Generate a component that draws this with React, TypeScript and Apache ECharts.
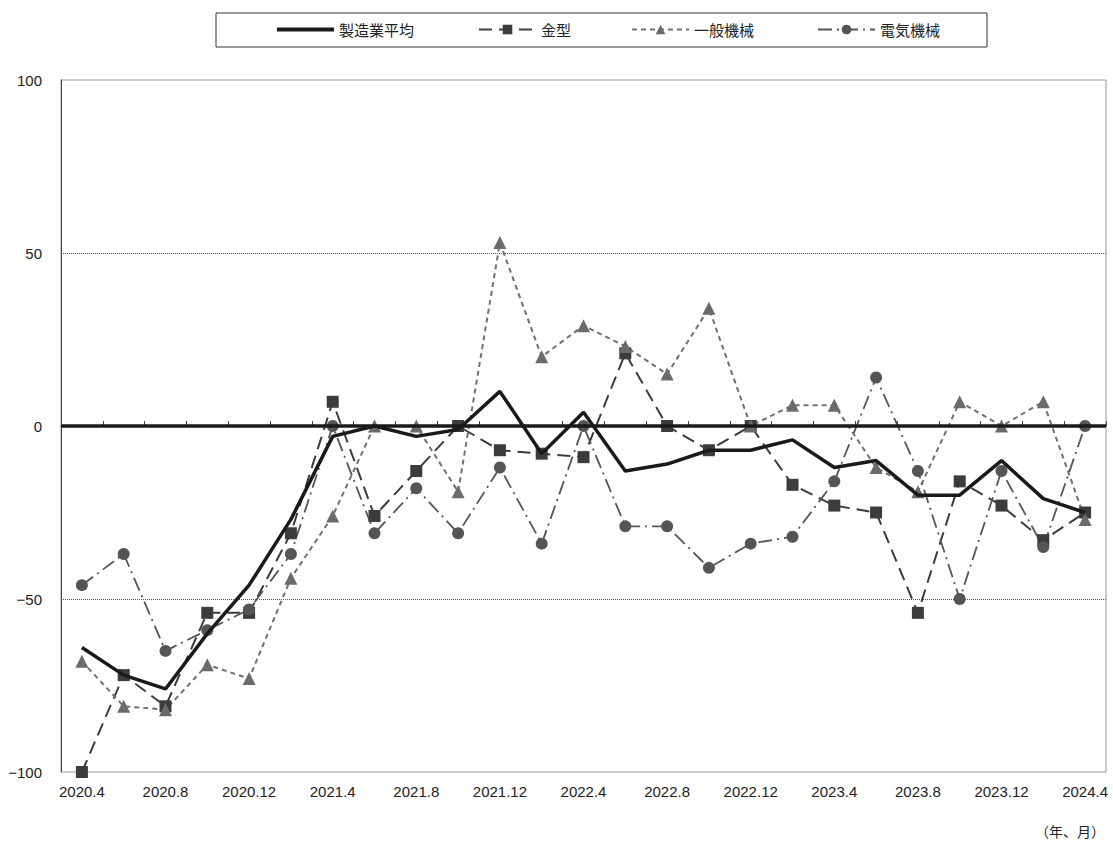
import React, { useEffect, useRef } from "react";
import * as echarts from "echarts";

const categories = [
  "2020.4", "2020.6", "2020.8", "2020.10", "2020.12",
  "2021.2", "2021.4", "2021.6", "2021.8", "2021.10", "2021.12",
  "2022.2", "2022.4", "2022.6", "2022.8", "2022.10", "2022.12",
  "2023.2", "2023.4", "2023.6", "2023.8", "2023.10", "2023.12",
  "2024.2", "2024.4",
];

const seriesNames = ["製造業平均", "金型", "一般機械", "電気機械"];

const avgValues = [-64, -72, -76, -60, -46, -27, -3, 0, -3, -1, 10, -8, 4, -13, -11, -7, -7, -4, -12, -10, -20, -20, -10, -21, -25];
const moldValues = [-100, -72, -81, -54, -54, -31, 7, -26, -13, 0, -7, -8, -9, 21, 0, -7, 0, -17, -23, -25, -54, -16, -23, -33, -25];
const machineValues = [-68, -81, -82, -69, -73, -44, -26, 0, 0, -19, 53, 20, 29, 23, 15, 34, 0, 6, 6, -12, -19, 7, 0, 7, -27];
const electricValues = [-46, -37, -65, -59, -53, -37, 0, -31, -18, -31, -12, -34, 0, -29, -29, -41, -34, -32, -16, 14, -13, -50, -13, -35, 0];

const yMin = -100;
const yMax = 100;
const yInterval = 50;
const unitLabel = "（年、月）";

const legendLefts = [277, 478, 631, 817];

export default function App() {
  const ref = useRef<HTMLDivElement>(null);

  useEffect(() => {
    document.body.style.margin = "0";
    if (!ref.current) return;
    const chart = echarts.init(ref.current, null, { renderer: "svg" });
    const textFont = "'Liberation Sans', Arial, sans-serif";
    const cjkFont = "'Noto Sans CJK JP', sans-serif";

    const legendCommon = {
      top: 22,
      orient: "horizontal",
      padding: 0,
      itemWidth: 57,
      itemHeight: 12,
      itemGap: 0,
      textStyle: { fontSize: 15, color: "#222", fontFamily: cjkFont },
    };

    const option: any = {
      animation: false,
      backgroundColor: "#ffffff",
      legend: seriesNames.map((n, i) =>
        i === 0
          ? {
              ...legendCommon,
              left: legendLefts[i],
              itemHeight: 4,
              data: [{ name: n, icon: "rect", itemStyle: { color: "#1a1a1a" } }],
            }
          : {
              ...legendCommon,
              left: legendLefts[i],
              data: [n],
            }
      ),
      graphic: [
        {
          type: "rect",
          shape: { x: 216, y: 13, width: 771, height: 34 },
          style: { fill: "none", stroke: "#333", lineWidth: 1 },
          silent: true,
        },
        {
          type: "text",
          x: 1105,
          y: 831,
          style: {
            text: unitLabel,
            fontSize: 14,
            fontFamily: cjkFont,
            fill: "#222",
            align: "right",
            verticalAlign: "middle",
          },
          silent: true,
        },
      ],
      grid: {
        left: 61,
        right: 7,
        top: 80,
        bottom: 77,
        show: true,
        borderColor: "#999",
        borderWidth: 1,
      },
      xAxis: {
        type: "category",
        data: categories,
        boundaryGap: true,
        axisLine: { show: true, lineStyle: { color: "#444", width: 1 } },
        axisTick: { show: true, inside: true, length: 5, interval: 0, lineStyle: { color: "#444" } },
        axisLabel: {
          interval: 1,
          fontSize: 15,
          color: "#222",
          fontFamily: textFont,
          margin: 12,
        },
        splitLine: { show: false },
      },
      yAxis: {
        type: "value",
        min: yMin,
        max: yMax,
        interval: yInterval,
        axisLine: { show: true, lineStyle: { color: "#444", width: 1 } },
        axisTick: { show: false },
        axisLabel: {
          fontSize: 15,
          color: "#222",
          fontFamily: textFont,
          margin: 19,
          formatter: (v: number) => String(v).replace("-", "\u2212"),
        },
        splitLine: {
          show: true,
          showMinLine: false,
          showMaxLine: false,
          lineStyle: { color: "#555", type: "dotted", width: 1 },
        },
      },
      series: [
        {
          name: seriesNames[0],
          type: "line",
          data: avgValues,
          symbol: "none",
          lineStyle: { color: "#1a1a1a", width: 3.5, type: "solid" },
          itemStyle: { color: "#1a1a1a" },
          z: 5,
          markLine: {
            silent: true,
            symbol: "none",
            label: { show: false },
            lineStyle: { color: "#1a1a1a", width: 3.5, type: "solid" },
            data: [{ yAxis: 0 }],
          },
        },
        {
          name: seriesNames[1],
          type: "line",
          data: moldValues,
          symbol: "rect",
          symbolSize: 12,
          lineStyle: { color: "#3c3c3c", width: 2, type: [13, 7] },
          itemStyle: { color: "#3c3c3c" },
          z: 3,
        },
        {
          name: seriesNames[2],
          type: "line",
          data: machineValues,
          symbol: "triangle",
          symbolSize: 13,
          lineStyle: { color: "#707070", width: 2, type: [5, 4] },
          itemStyle: { color: "#6b6b6b" },
          z: 3,
        },
        {
          name: seriesNames[3],
          type: "line",
          data: electricValues,
          symbol: "circle",
          symbolSize: 12,
          lineStyle: { color: "#555555", width: 1.8, type: [14, 5, 2, 5] },
          itemStyle: { color: "#555555" },
          z: 3,
        },
      ],
    };

    chart.setOption(option);
    return () => chart.dispose();
  }, []);

  return <div ref={ref} style={{ width: 1113, height: 849 }} />;
}
